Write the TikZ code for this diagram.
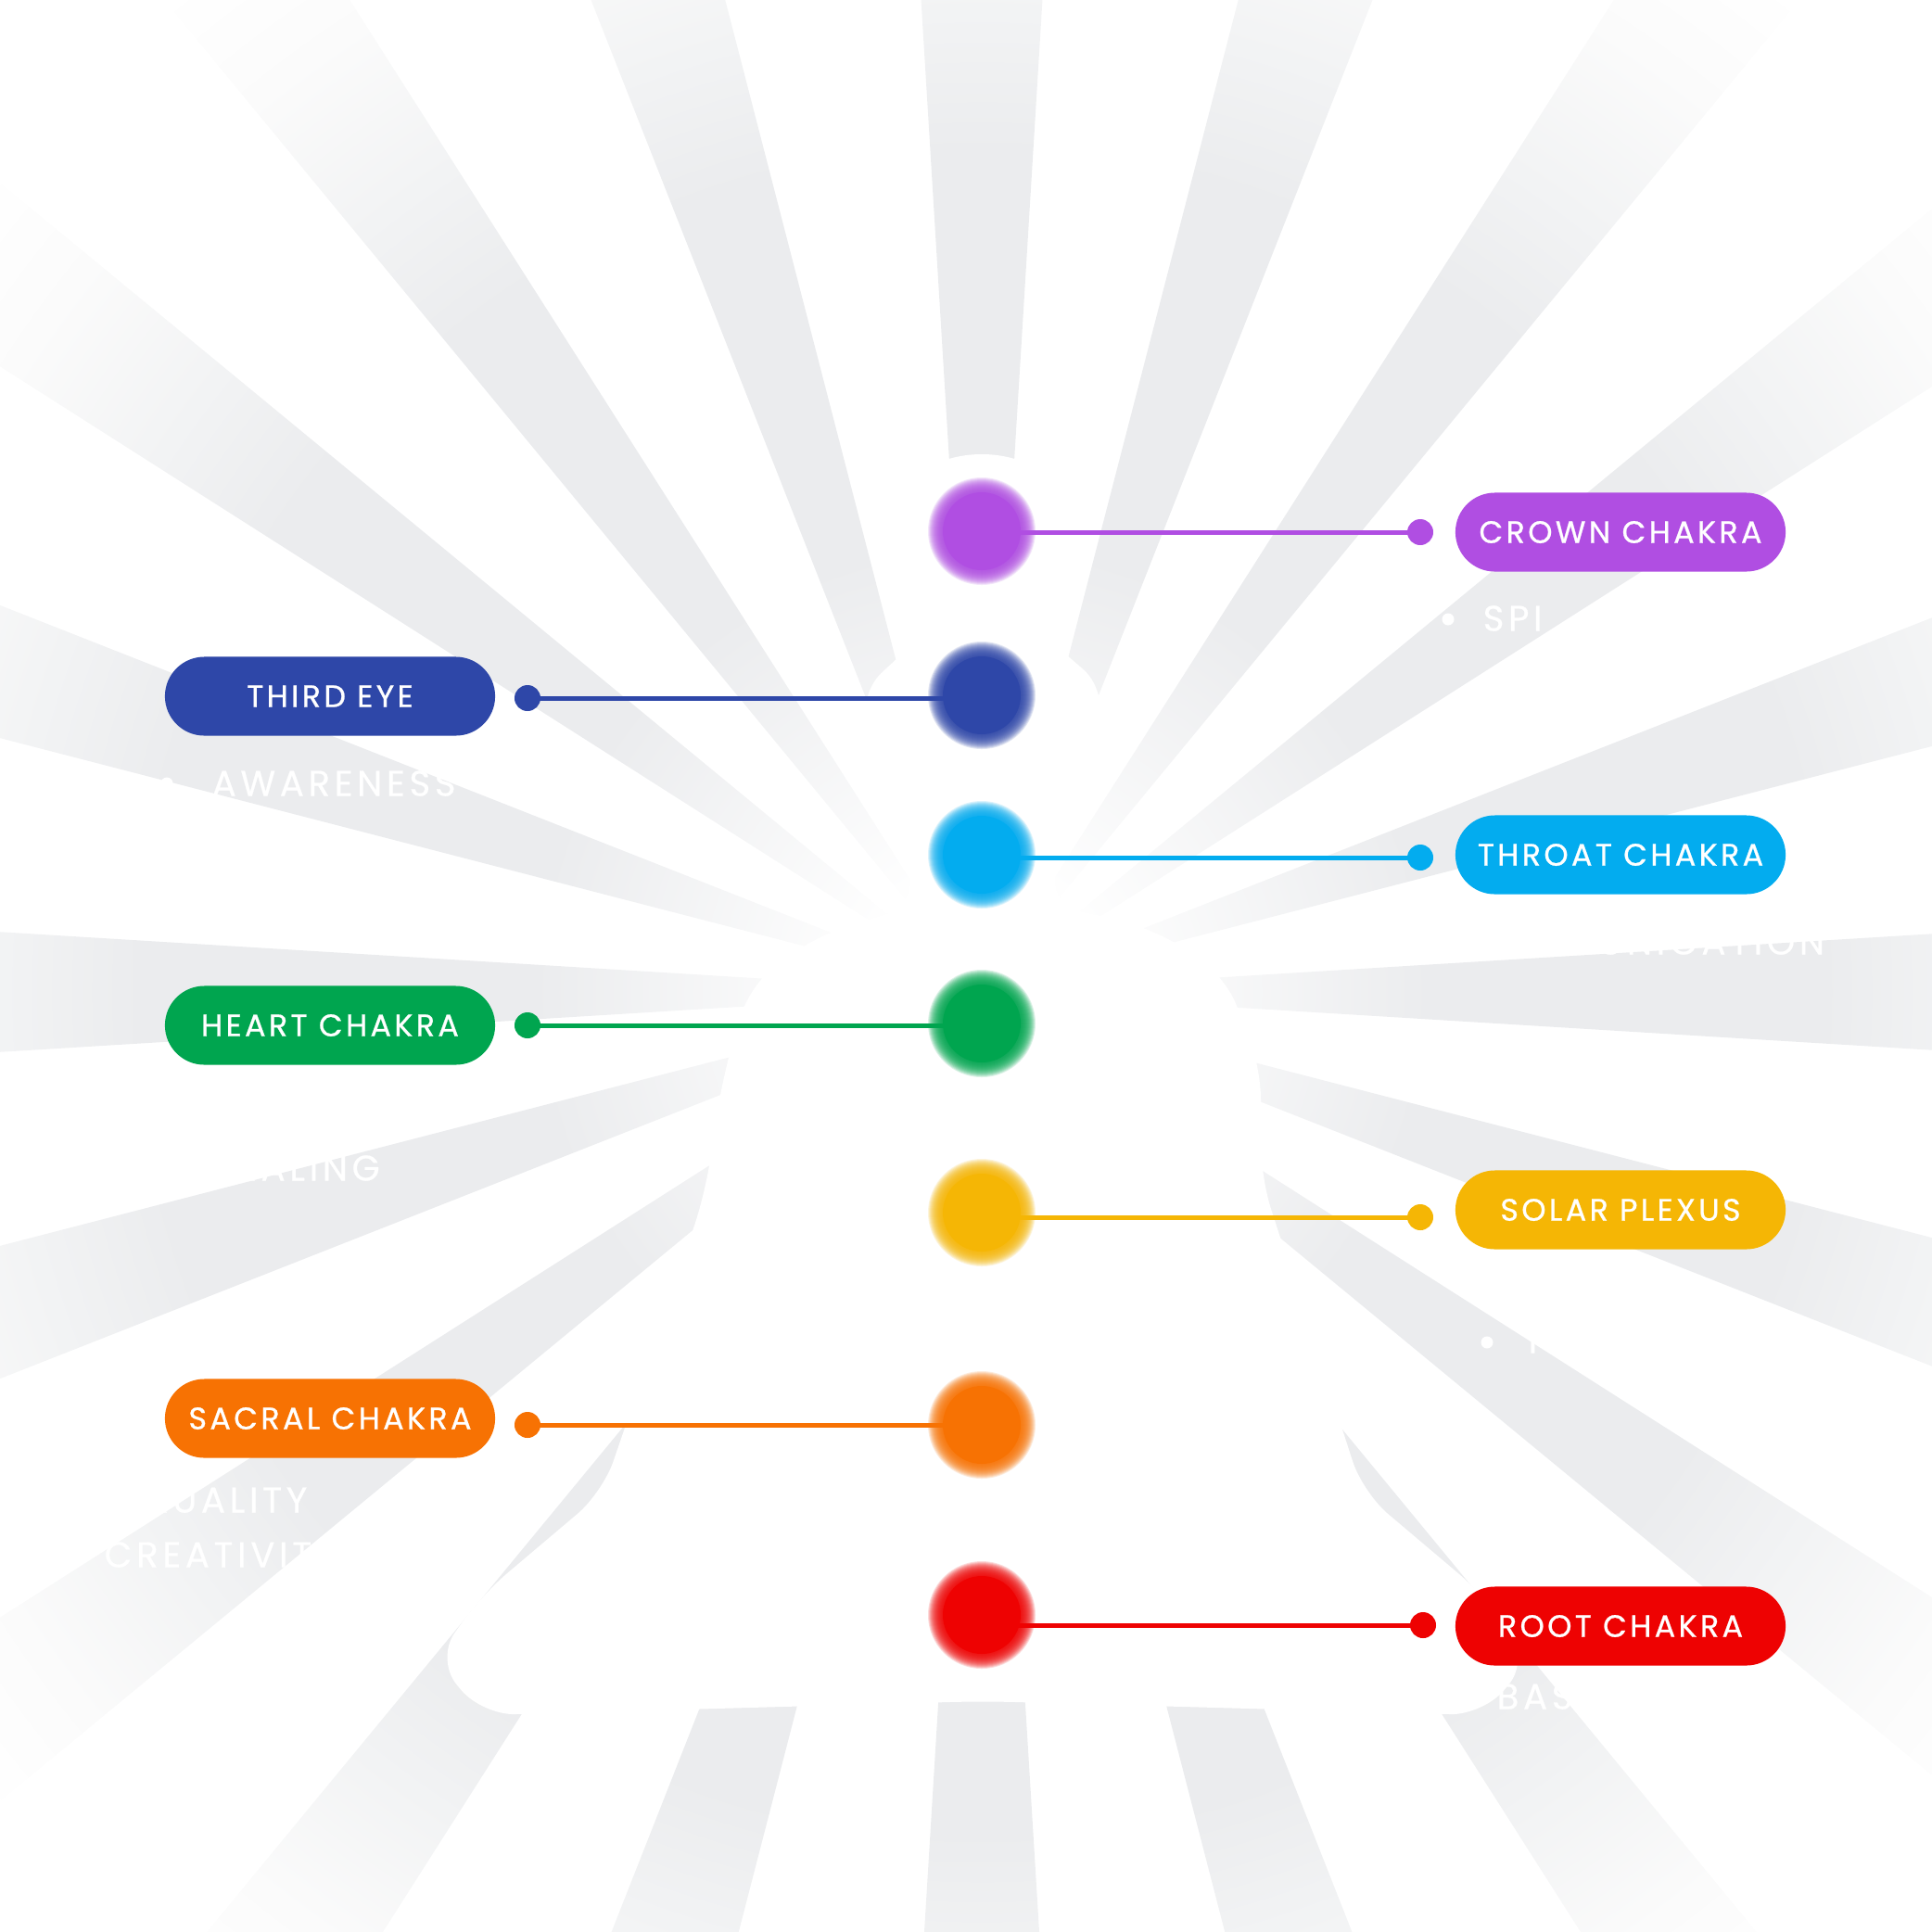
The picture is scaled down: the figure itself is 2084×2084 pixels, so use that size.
\documentclass[tikz,border=0pt]{standalone}
\usepackage{fontspec}
\setmainfont{Poppins}
\newfontfamily\pillfont[LetterSpace=10,FakeBold=0.7]{Poppins}
\newfontfamily\notefont[LetterSpace=12,FakeBold=0.5]{Poppins}
\usepackage{xcolor}
\usepackage{tikz}
\definecolor{raygray}{RGB}{235,236,238}
\definecolor{raymid}{RGB}{242,243,244}
\definecolor{raylight}{RGB}{251,251,251}
\definecolor{crownc}{HTML}{B04EE2}
\definecolor{thirdc}{HTML}{2E47A8}
\definecolor{throatc}{HTML}{03ACEF}
\definecolor{heartc}{HTML}{00A54F}
\definecolor{solarc}{HTML}{F5B605}
\definecolor{sacralc}{HTML}{F77203}
\definecolor{rootc}{HTML}{EE0202}
\pgfdeclareradialshading{sunrays}{\pgfpointorigin}{color(0bp)=(white); color(2bp)=(white); color(8bp)=(raygray); color(15bp)=(raygray); color(17.5bp)=(raymid); color(20.5bp)=(raylight); color(23bp)=(white); color(50bp)=(white)}
\newcommand{\chakrablob}[2]{%
  \foreach \r in {58,57,...,43} {\fill[#2,opacity=0.14] (#1) circle (\r);}%
  \fill[#2] (#1) circle (42);}

\begin{document}
\begin{tikzpicture}[x=0.01cm,y=-0.01cm,line join=round,
  pill/.style={rounded corners=0.425cm,minimum width=3.56cm,minimum height=0.85cm,inner sep=0pt,text=white,font=\pillfont\fontsize{9.5}{10}\selectfont},
  tip/.style={circle,inner sep=0pt,minimum size=0.28cm},
  link/.style={line width=0.05cm},
  note/.style={anchor=west,inner sep=0pt,text=white,font=\notefont\fontsize{11}{12}\selectfont},
  bullet/.style={circle,fill=white,inner sep=0pt,minimum size=0.13cm}]
  \useasboundingbox (0,0) rectangle (2084,2084);
  \clip (0,0) rectangle (2084,2084);
  \coordinate (C) at (1059,1070);
  % sunburst behind the figure
  \begin{scope}
    \clip foreach \a in {0,18,...,342} {(C) -- ([shift={(\a-3.5:1700)}]C) -- ([shift={(\a+3.5:1700)}]C) -- cycle};
    \shade[shading=sunrays] (C) circle (1510);
  \end{scope}
  % seated figure
  \fill[white] (1059,598) ellipse [x radius=118,y radius=108];
  \fill[white,rounded corners=10pt] (1000,680) -- (1120,680) -- (1195,745) -- (1130,975) -- (1240,1000)
    -- (1320,1050) -- (1360,1150) -- (1360,1270) -- (1470,1610) -- (1600,1720) -- (1650,1790)
    -- (1600,1850) -- (1060,1835) -- (520,1850) -- (470,1790) -- (520,1720) -- (650,1610) -- (760,1290)
    -- (780,1160) -- (810,1060) -- (880,1010) -- (990,975) -- (925,750) -- cycle;
  % chakras
  \coordinate (crown) at (1059,573);
  \coordinate (third) at (1059,750);
  \coordinate (throat) at (1059,922);
  \coordinate (heart) at (1059,1104);
  \coordinate (solar) at (1059,1308);
  \coordinate (sacral) at (1059,1537);
  \coordinate (root) at (1059,1742);
  \node[tip,fill=crownc] (crowndot) at (1532,574) {};
  \node[tip,fill=thirdc] (thirddot) at (569,753) {};
  \node[tip,fill=throatc] (throatdot) at (1532,925) {};
  \node[tip,fill=heartc] (heartdot) at (569,1106) {};
  \node[tip,fill=solarc] (solardot) at (1532,1313) {};
  \node[tip,fill=sacralc] (sacraldot) at (569,1537) {};
  \node[tip,fill=rootc] (rootdot) at (1535,1753) {};
  \draw[link,crownc] (crowndot.center) -- (crown |- crowndot);
  \draw[link,thirdc] (thirddot.center) -- (third |- thirddot);
  \draw[link,throatc] (throatdot.center) -- (throat |- throatdot);
  \draw[link,heartc] (heartdot.center) -- (heart |- heartdot);
  \draw[link,solarc] (solardot.center) -- (solar |- solardot);
  \draw[link,sacralc] (sacraldot.center) -- (sacral |- sacraldot);
  \draw[link,rootc] (rootdot.center) -- (root |- rootdot);
  \chakrablob{crown}{crownc}
  \chakrablob{third}{thirdc}
  \chakrablob{throat}{throatc}
  \chakrablob{heart}{heartc}
  \chakrablob{solar}{solarc}
  \chakrablob{sacral}{sacralc}
  \chakrablob{root}{rootc}
  % labels
  \node[pill,fill=crownc] (crownpill) at (1748,574) {CROWN CHAKRA};
  \node[pill,fill=thirdc] (thirdpill) at (356,751) {THIRD EYE};
  \node[pill,fill=throatc] (throatpill) at (1748,922) {THROAT CHAKRA};
  \node[pill,fill=heartc] (heartpill) at (356,1106) {HEART CHAKRA};
  \node[pill,fill=solarc] (solarpill) at (1748,1305) {SOLAR PLEXUS};
  \node[pill,fill=sacralc] (sacralpill) at (356,1530) {SACRAL CHAKRA};
  \node[pill,fill=rootc] (rootpill) at (1748,1754) {ROOT CHAKRA};
  % white notes, seen only on the rays
  \node[bullet] (crownbul) at (1562,668) {};
  \node[note] (crownnote) at (1599,667) {SPI};
  \node[bullet] (thirdbul) at (180,845) {};
  \node[note] (thirdnote) at (228,845) {AWARENESS};
  \node[note] (throatnote) at (1578,1016) {COMMUNICATION};
  \node[note] (heartnote) at (225,1260) {HEALING};
  \node[bullet] (solarbul) at (1604,1448) {};
  \node[note] (solarnote) at (1648,1446) {P};
  \node[note] (sacralnote) at (105,1618) {SEXUALITY};
  \node[note] (sacralnotb) at (112,1677) {CREATIVITY};
  \node[bullet] (rootbul) at (1576,1832) {};
  \node[note] (rootnote) at (1614,1830) {BAS};
\end{tikzpicture}
\end{document}
